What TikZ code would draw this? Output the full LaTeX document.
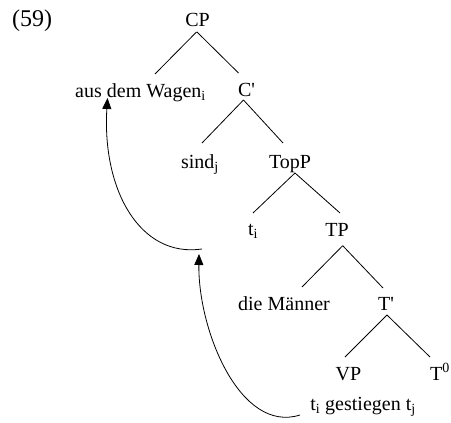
\documentclass[tikz,border=0pt]{standalone}
\usepackage{fontspec}
\setmainfont{Liberation Serif}
\usetikzlibrary{calc,arrows.meta}
\begin{document}
\begin{tikzpicture}[x=1pt,y=-1pt,
  lbl/.style={inner sep=0pt,anchor=base,font=\fontsize{20}{24}\selectfont},
  branch/.style={line width=0.8pt},
  move/.style={line width=0.8pt,-{Triangle[length=11pt,width=9pt]}}]
\useasboundingbox (0,0) rectangle (451,423);

% example number
\node[lbl,anchor=base west,font=\fontsize{24}{28}\selectfont] (ex) at (12,27) {(59)};

% tree labels
\node[lbl] (CP)      at (197.5,26.7) {CP};
\node[lbl] (aus)     at (140.5,97)   {aus dem Wagen\textsubscript{i}};
\node[lbl] (Cbar)    at (246.5,96)   {C\textquotesingle};
\node[lbl] (sind)    at (200,168)    {sind\textsubscript{j}};
\node[lbl] (TopP)    at (290,168)    {TopP};
\node[lbl] (ti)      at (253,235)    {t\textsubscript{i}};
\node[lbl] (TP)      at (337,236)    {TP};
\node[lbl] (maenner) at (284,310)    {die Männer};
\node[lbl] (Tbar)    at (386,310)    {T\textquotesingle};
\node[lbl] (VP)      at (348.5,380)  {VP};
\node[lbl] (Tnull)   at (440,380)    {T\textsuperscript{0}};
\node[lbl] (gest)    at (363,410)    {t\textsubscript{i} gestiegen t\textsubscript{j}};

% branches
\draw[branch] ($(CP.base)+(-1,5.3)$)   -- ($(aus.base)+(14.5,-23)$);
\draw[branch] ($(CP.base)+(-0.5,5.3)$) -- ($(Cbar.base)+(-8,-23)$);
\draw[branch] ($(Cbar.base)+(-3,4)$)   -- ($(sind.base)+(2,-25)$);
\draw[branch] ($(Cbar.base)+(-3,4)$)   -- ($(TopP.base)+(-7,-25)$);
\draw[branch] ($(TopP.base)+(5,5)$)    -- ($(ti.base)+(0,-22)$);
\draw[branch] ($(TopP.base)+(5,5)$)    -- ($(TP.base)+(3,-23)$);
\draw[branch] ($(TP.base)+(5.7,9.7)$)  -- ($(maenner.base)+(18,-23)$);
\draw[branch] ($(TP.base)+(5.7,9.7)$)  -- ($(Tbar.base)+(-3,-22)$);
\draw[branch] ($(Tbar.base)+(1,5)$)    -- ($(VP.base)+(-3.5,-23)$);
\draw[branch] ($(Tbar.base)+(1,5)$)    -- ($(Tnull.base)+(-10,-23)$);

% movement arrows
\coordinate (landing) at (202,249);
\coordinate (trace) at (300,415);
\draw[move] (landing) .. controls (140,258) and (102,190) .. ($(aus.base)+(-33,1)$);
\draw[move] (trace) .. controls (240,434) and (198,330) .. ($(landing)+(-3,5)$);
\end{tikzpicture}
\end{document}
